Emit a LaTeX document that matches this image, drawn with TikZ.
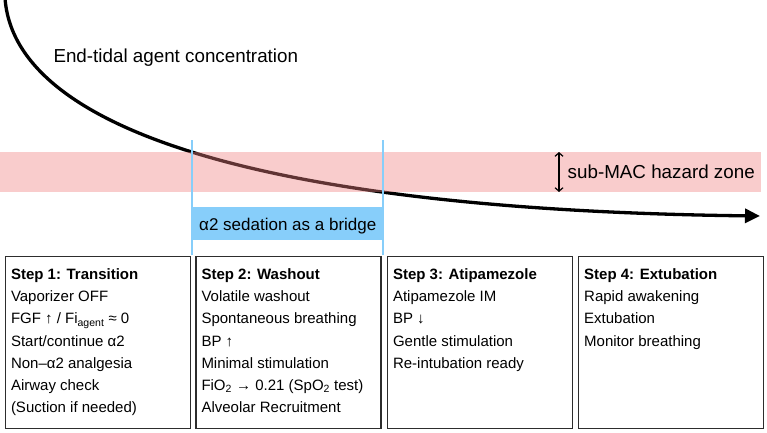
\documentclass[tikz,border=0pt]{standalone}
\usepackage{fontspec}
\setmainfont{Liberation Sans}
\usetikzlibrary{arrows.meta,calc}
\definecolor{skyb}{RGB}{135,206,250}
\definecolor{hazard}{RGB}{240,128,128}
\definecolor{boxline}{RGB}{45,45,45}
\begin{document}
\begin{tikzpicture}[x=1pt,y=-1pt,
  boxfont/.style={font=\fontsize{15}{22.2}\selectfont},
  bigfont/.style={font=\fontsize{18.8}{22}\selectfont},
  stepbox/.style={draw=boxline,line width=1.2pt,minimum width=185pt,minimum height=172pt,anchor=north west,inner sep=0pt},
  steptext/.style={boxfont,anchor=north west,inner sep=0pt,align=left},
  bridgeline/.style={draw=skyb,line width=2pt},
  curve/.style={line width=3.3pt,-{Triangle[length=15pt,width=14pt]}},
  hazardband/.style={fill=hazard,opacity=0.4},
  dblarrow/.style={line width=1.2pt,{Straight Barb[length=3.5pt,width=8pt]}-{Straight Barb[length=3.5pt,width=8pt]}}
]
\useasboundingbox (0,0) rectangle (767,432);

% concentration curve
\coordinate (cstart) at (5,-2);
\coordinate (cend) at (760,216);
\draw[curve] (cstart) .. controls (14,128) and (260,210) .. (cend);
\node[bigfont,anchor=base west,inner sep=0pt] (etlabel) at (53.3,62.5) {End-tidal agent concentration};

% hazard band
\fill[hazardband] (0,152) rectangle (761,192);
\coordinate (hztop) at (559,152);
\coordinate (hzbot) at (559,192);
\draw[dblarrow] (hztop) -- (hzbot);
\node[bigfont,anchor=base west,inner sep=0pt] (hzlabel) at (567.5,178.5) {sub-MAC hazard zone};

% bridge
\coordinate (bl1) at (192.3,140);
\coordinate (bl2) at (192.3,255);
\coordinate (br1) at (383.3,140);
\coordinate (br2) at (383.3,255);
\draw[bridgeline] (bl1) -- (bl2);
\draw[bridgeline] (br1) -- (br2);
\node[fill=skyb,minimum width=191pt,minimum height=33pt,inner sep=0pt,anchor=north west] (bridge) at (192.3,207) {};
\node[font=\fontsize{17}{20}\selectfont,anchor=base,inner sep=0pt] (bridgetext) at (287.8,230) {α2 sedation as a bridge};

% step boxes
\node[stepbox] (b1) at (5,256) {};
\node[stepbox] (b2) at (195.3,256) {};
\node[stepbox] (b3) at (387,256) {};
\node[stepbox] (b4) at (578,256) {};

\node[steptext] (t1) at ($(b1.north west)+(5.8,12.3)$) {\rule{0pt}{11pt}\textbf{Step 1: Transition}\\
Vaporizer OFF\\
FGF ↑ / Fi\textsubscript{agent} ≈ 0\\
Start/continue α2\\
Non–α2 analgesia\\
Airway check\\
(Suction if needed)};

\node[steptext] (t2) at ($(b2.north west)+(6,12.3)$) {\rule{0pt}{11pt}\textbf{Step 2: Washout}\\
Volatile washout\\
Spontaneous breathing\\
BP ↑\\
Minimal stimulation\\
FiO\textsubscript{2} → 0.21 (SpO\textsubscript{2} test)\\
Alveolar Recruitment};

\node[steptext] (t3) at ($(b3.north west)+(5.8,12.3)$) {\rule{0pt}{11pt}\textbf{Step 3: Atipamezole}\\
Atipamezole IM\\
BP ↓\\
Gentle stimulation\\
Re-intubation ready};

\node[steptext] (t4) at ($(b4.north west)+(6,12.3)$) {\rule{0pt}{11pt}\textbf{Step 4: Extubation}\\
Rapid awakening\\
Extubation\\
Monitor breathing};
\end{tikzpicture}
\end{document}
